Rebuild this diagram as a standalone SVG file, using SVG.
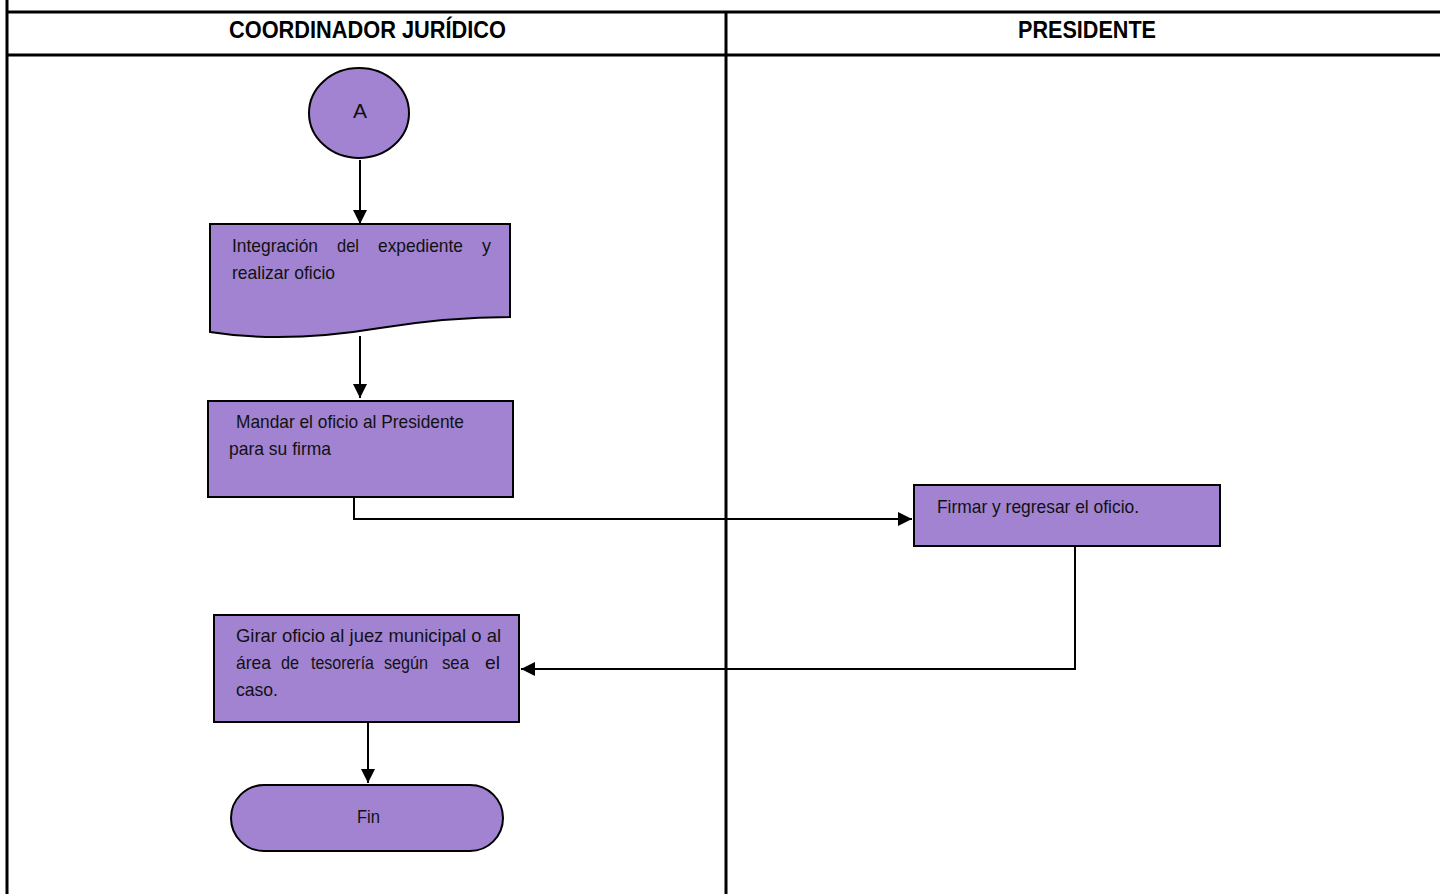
<svg xmlns="http://www.w3.org/2000/svg" width="1440" height="894" viewBox="0 0 1440 894">
<defs>
<style>
.lane{stroke:#000;stroke-width:3;fill:none}
.node{fill:#a183d2;stroke:#000;stroke-width:2}
.conn{stroke:#000;stroke-width:2;fill:none}
.hdr{font-family:"Liberation Sans Narrow","Liberation Sans",Arial,sans-serif;font-weight:bold;font-size:24px;fill:#000}
.t{font-family:"Liberation Sans Narrow","Liberation Sans",Arial,sans-serif;font-size:18.5px;fill:#111}
.big{font-family:"Liberation Sans",Arial,sans-serif;font-size:21px;fill:#111}
</style>
<marker id="ah" viewBox="0 0 14 14" refX="14" refY="7" markerWidth="14" markerHeight="14" markerUnits="userSpaceOnUse" orient="auto">
<path d="M0,0 L14,7 L0,14 z" fill="#000"/>
</marker>
</defs>
<rect width="1440" height="894" fill="#fff"/>
<g id="lanes">
<line class="lane" x1="7" y1="0" x2="7" y2="894"/>
<line class="lane" x1="7" y1="12" x2="1440" y2="12"/>
<line class="lane" x1="7" y1="55" x2="1440" y2="55"/>
<line class="lane" x1="726" y1="12" x2="726" y2="894"/>
<text class="hdr" x="229" y="38" textLength="277" lengthAdjust="spacingAndGlyphs">COORDINADOR JURÍDICO</text>
<text class="hdr" x="1018" y="38" textLength="138" lengthAdjust="spacingAndGlyphs">PRESIDENTE</text>
</g>
<g id="connectors">
<line class="conn" x1="360" y1="160" x2="360" y2="224" marker-end="url(#ah)"/>
<line class="conn" x1="360" y1="336" x2="360" y2="398" marker-end="url(#ah)"/>
<polyline class="conn" points="354,497 354,519 912,519" marker-end="url(#ah)"/>
<polyline class="conn" points="1075,547 1075,669 521,669" marker-end="url(#ah)"/>
<line class="conn" x1="368" y1="722" x2="368" y2="783" marker-end="url(#ah)"/>
</g>
<g id="nodeA">
<ellipse class="node" cx="359" cy="113" rx="50" ry="45"/>
<text class="big" x="360" y="118" text-anchor="middle">A</text>
</g>
<g id="nodeIntegracion">
<path class="node" d="M210,224 H510 V317 C470,317 430,320 380,328 C320,338 260,340 210,332 Z"/>
<text class="t" y="252"><tspan x="232" textLength="86" lengthAdjust="spacingAndGlyphs">Integración</tspan><tspan x="337" textLength="22" lengthAdjust="spacingAndGlyphs">del</tspan><tspan x="378" textLength="85" lengthAdjust="spacingAndGlyphs">expediente</tspan><tspan x="482" textLength="9" lengthAdjust="spacingAndGlyphs">y</tspan></text>
<text class="t" x="232" y="279" textLength="103" lengthAdjust="spacingAndGlyphs">realizar oficio</text>
</g>
<g id="nodeMandar">
<rect class="node" x="208" y="401" width="305" height="96"/>
<text class="t" x="236" y="428" textLength="228" lengthAdjust="spacingAndGlyphs">Mandar el oficio al Presidente</text>
<text class="t" x="229" y="455" textLength="102" lengthAdjust="spacingAndGlyphs">para su firma</text>
</g>
<g id="nodeFirmar">
<rect class="node" x="914" y="485" width="306" height="61"/>
<text class="t" x="937" y="513" textLength="202" lengthAdjust="spacingAndGlyphs">Firmar y regresar el oficio.</text>
</g>
<g id="nodeGirar">
<rect class="node" x="214" y="615" width="305" height="107"/>
<text class="t" x="236" y="642" textLength="265" lengthAdjust="spacingAndGlyphs">Girar oficio al juez municipal o al</text>
<text class="t" y="669"><tspan x="236" textLength="35" lengthAdjust="spacingAndGlyphs">área</tspan><tspan x="281" textLength="18" lengthAdjust="spacingAndGlyphs">de</tspan><tspan x="311" textLength="63" lengthAdjust="spacingAndGlyphs">tesorería</tspan><tspan x="384" textLength="44" lengthAdjust="spacingAndGlyphs">según</tspan><tspan x="442" textLength="27" lengthAdjust="spacingAndGlyphs">sea</tspan><tspan x="485" textLength="15" lengthAdjust="spacingAndGlyphs">el</tspan></text>
<text class="t" x="236" y="696" textLength="42" lengthAdjust="spacingAndGlyphs">caso.</text>
</g>
<g id="nodeFin">
<rect class="node" x="231" y="785" width="272" height="66" rx="33" ry="33"/>
<text class="t" x="357" y="823" textLength="23" lengthAdjust="spacingAndGlyphs">Fin</text>
</g>
</svg>
